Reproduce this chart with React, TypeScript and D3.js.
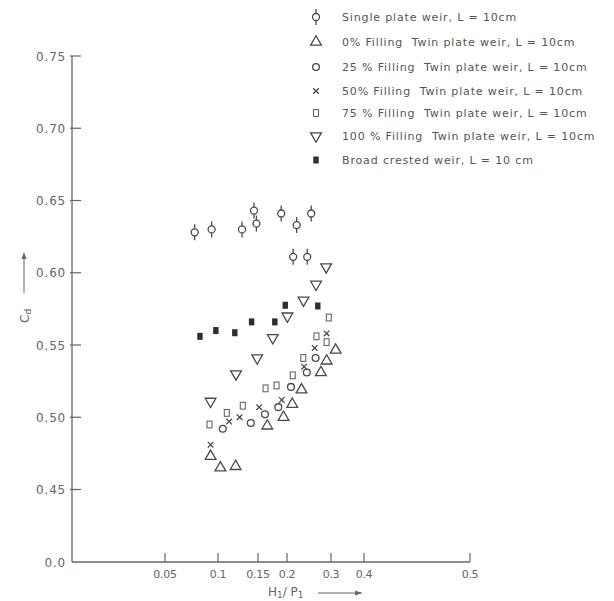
import * as React from "react";
import * as d3 from "d3";

// values: [H1/P1, Cd]
const singlePlate: [number, number][] = [
  [0.078, 0.628], [0.094, 0.63], [0.13, 0.63], [0.145, 0.643], [0.148, 0.634],
  [0.19, 0.641], [0.222, 0.633], [0.255, 0.641], [0.214, 0.611], [0.246, 0.611],
];
const fill0: [number, number][] = [
  [0.314, 0.5465], [0.29, 0.539], [0.277, 0.531], [0.233, 0.519], [0.212, 0.509],
  [0.194, 0.5], [0.166, 0.494], [0.093, 0.473], [0.103, 0.465], [0.122, 0.466],
];
const fill25: [number, number][] = [
  [0.265, 0.541], [0.245, 0.531], [0.209, 0.521], [0.185, 0.507], [0.162, 0.502],
  [0.141, 0.496], [0.106, 0.492],
];
const fill50: [number, number][] = [
  [0.29, 0.558], [0.263, 0.548], [0.239, 0.535], [0.191, 0.512], [0.152, 0.507],
  [0.127, 0.5], [0.114, 0.497], [0.093, 0.481],
];
const fill75: [number, number][] = [
  [0.295, 0.569], [0.267, 0.556], [0.29, 0.552], [0.237, 0.541], [0.213, 0.529],
  [0.182, 0.522], [0.163, 0.52], [0.131, 0.508], [0.111, 0.503], [0.092, 0.495],
];
const fill100: [number, number][] = [
  [0.289, 0.604], [0.266, 0.592], [0.2375, 0.581], [0.201, 0.57], [0.1755, 0.555],
  [0.149, 0.541], [0.1225, 0.53], [0.093, 0.511],
];
const broadCrested: [number, number][] = [
  [0.083, 0.556], [0.098, 0.56], [0.121, 0.5585], [0.142, 0.566], [0.179, 0.566],
  [0.197, 0.5775], [0.27, 0.577],
];

const xTicks = [0.05, 0.1, 0.15, 0.2, 0.3, 0.4, 0.5];
const xTickLabels = ["0.05", "0.1", "0.15", "0.2", "0.3", "0.4", "0.5"];
const yTicks = [0, 0.45, 0.5, 0.55, 0.6, 0.65, 0.7, 0.75];
const yTickLabels = ["0.0", "0.45", "0.50", "0.55", "0.60", "0.65", "0.70", "0.75"];

const legendLabels = [
  "Single plate weir, L = 10cm",
  "0% Filling  Twin plate weir, L = 10cm",
  "25 % Filling  Twin plate weir, L = 10cm",
  "50% Filling  Twin plate weir, L = 10cm",
  "75 % Filling  Twin plate weir, L = 10cm",
  "100 % Filling  Twin plate weir, L = 10cm",
  "Broad crested weir, L = 10 cm",
];

type Kind = "single" | "tri" | "circle" | "cross" | "square" | "down" | "filled";
const kinds: Kind[] = ["single", "tri", "circle", "cross", "square", "down", "filled"];
const series = [singlePlate, fill0, fill25, fill50, fill75, fill100, broadCrested];

const INK = "#4a4a4a";
const FONT = "'DejaVu Sans', sans-serif";

// hand-drawn axes: uneven x spacing, broken y axis below 0.45
const x = d3.scaleLinear().domain([0, ...xTicks]).range([72, 165, 218, 258, 287, 331, 364, 470]);
const y = d3.scaleLinear().domain([0, 0.45, 0.75]).range([562, 489.5, 56]);

const triUp = d3.symbol(d3.symbolTriangle, 50)();

function Marker({ kind, cx, cy }: { kind: Kind; cx: number; cy: number }) {
  const sw = 1.3;
  switch (kind) {
    case "single":
      return (
        <g stroke={INK} strokeWidth={sw} fill="none">
          <line x1={cx} x2={cx} y1={cy - 8} y2={cy + 8} />
          <circle cx={cx} cy={cy} r={3.5} fill="#fff" />
        </g>
      );
    case "circle":
      return <circle cx={cx} cy={cy} r={3.4} fill="none" stroke={INK} strokeWidth={sw} />;
    case "tri":
      return <path d={triUp ?? ""} transform={`translate(${cx},${cy})`} fill="none" stroke={INK} strokeWidth={sw} />;
    case "down":
      return (
        <path d={triUp ?? ""} transform={`translate(${cx},${cy}) rotate(180)`} fill="none" stroke={INK} strokeWidth={sw} />
      );
    case "cross":
      return (
        <g stroke={INK} strokeWidth={sw}>
          <line x1={cx - 2.8} x2={cx + 2.8} y1={cy - 2.8} y2={cy + 2.8} />
          <line x1={cx - 2.8} x2={cx + 2.8} y1={cy + 2.8} y2={cy - 2.8} />
        </g>
      );
    case "square":
      return <rect x={cx - 2.5} y={cy - 3.4} width={5} height={6.8} fill="none" stroke="#666" strokeWidth={1.1} />;
    case "filled":
      return <rect x={cx - 2.7} y={cy - 3.5} width={5.4} height={7} fill="#2e2e2e" />;
  }
}

export default function App() {
  const axisX = x(0);
  const axisY = y(0);
  const legendRows = [17, 42, 67, 91, 113, 136, 160];

  return (
    <div style={{ position: "absolute", left: 0, top: 0 }}>
      <svg width={614} height={601} viewBox="0 0 614 601" style={{ display: "block", background: "#fff" }}>
        {/* axes */}
        <line x1={axisX} x2={axisX} y1={y(0.75)} y2={axisY} stroke="#666" strokeWidth={1.3} />
        <line x1={axisX} x2={x(0.5)} y1={axisY} y2={axisY} stroke="#666" strokeWidth={1.3} />

        {yTicks.map((t, i) => (
          <g key={t}>
            {t > 0 && <line x1={axisX - 2} x2={axisX + 9} y1={y(t)} y2={y(t)} stroke="#666" strokeWidth={1.2} />}
            <text
              x={66}
              y={y(t) + 4.5}
              textAnchor="end"
              fontFamily={FONT}
              fontSize={12}
              letterSpacing={0.8}
              fill="#666"
            >
              {yTickLabels[i]}
            </text>
          </g>
        ))}

        {xTicks.map((t, i) => (
          <g key={t}>
            <line x1={x(t)} x2={x(t)} y1={axisY} y2={axisY - 9} stroke="#666" strokeWidth={1.2} />
            <text x={x(t)} y={578} textAnchor="middle" fontFamily={FONT} fontSize={11} fill="#666" letterSpacing={-0.3}>
              {xTickLabels[i]}
            </text>
          </g>
        ))}

        {/* axis titles */}
        <text x={268} y={596} fontFamily={FONT} fontSize={12} fill="#666">
          H<tspan fontSize={9} dy={2}>1</tspan>
          <tspan dy={-2}>/ P</tspan>
          <tspan fontSize={9} dy={2}>1</tspan>
        </text>
        <line x1={318} x2={362} y1={593} y2={593} stroke="#666" strokeWidth={1} />
        <path d="M362,593 l-7,-2.5 l0,5 z" fill="#666" />

        <g transform="translate(29,323) rotate(-90)">
          <text x={0} y={0} fontFamily={FONT} fontSize={12} fill="#666">
            C<tspan fontSize={9} dy={2}>d</tspan>
          </text>
        </g>
        <line x1={24} x2={24} y1={293} y2={254} stroke="#666" strokeWidth={1} />
        <path d="M24,252 l-2.5,7 l5,0 z" fill="#666" />

        {/* data */}
        {series.map((pts, si) =>
          pts.map((p, i) => <Marker key={`${si}-${i}`} kind={kinds[si]} cx={x(p[0])} cy={y(p[1])} />)
        )}

        {/* legend */}
        {legendLabels.map((label, i) => (
          <g key={label}>
            <Marker kind={kinds[i]} cx={316} cy={legendRows[i]} />
            <text
              x={342}
              y={legendRows[i] + 4}
              fontFamily={FONT}
              fontSize={11}
              letterSpacing={0.85}
              fill="#555"
              style={{ whiteSpace: "pre" }}
            >
              {label}
            </text>
          </g>
        ))}
      </svg>
    </div>
  );
}
